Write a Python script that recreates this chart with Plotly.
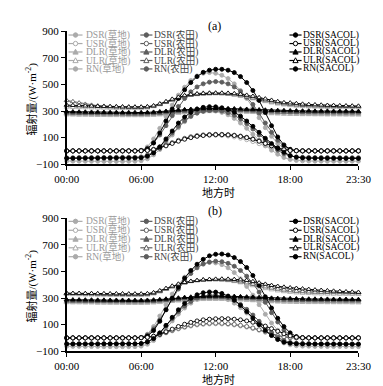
import plotly.graph_objects as go

# ---------------- data ----------------
times = ["00:00","00:30","01:00","01:30","02:00","02:30","03:00","03:30",
         "04:00","04:30","05:00","05:30","06:00","06:30","07:00","07:30",
         "08:00","08:30","09:00","09:30","10:00","10:30","11:00","11:30",
         "12:00","12:30","13:00","13:30","14:00","14:30","15:00","15:30",
         "16:00","16:30","17:00","17:30","18:00","18:30","19:00","19:30",
         "20:00","20:30","21:00","21:30","22:00","22:30","23:00","23:30"]
x_tick_labels = ["00:00", "06:00", "12:00", "18:00", "23:30"]
y_tick_values = [-100, 100, 300, 500, 700, 900]

# ---- panel (a) ----
dsr_grass_a = [0,0,0,0,0,0,0,0,0,0,0,0, 5,30,90,170,260,345,420,480,530,565,585,590,
               585,570,545,505,455,395,325,250,175,110,55,20, 4,0,0,0,0,0,0,0,0,0,0,0]
usr_grass_a = [0,0,0,0,0,0,0,0,0,0,0,0, 1,5,14,28,45,62,78,92,103,111,116,118,
               118,116,112,105,96,84,70,54,38,22,10,3, 1,0,0,0,0,0,0,0,0,0,0,0]
dlr_grass_a = [272,271,270,270,269,268,268,267,267,266,266,266, 266,267,269,272,276,280,284,288,291,294,296,297,
               298,298,297,296,294,292,290,287,284,281,279,277, 276,275,274,274,273,273,272,272,272,271,271,271]
ulr_grass_a = [330,328,327,326,325,324,323,322,321,321,320,320, 320,324,334,350,368,387,403,416,426,433,437,439,
               438,435,430,423,414,404,393,382,372,362,354,347, 342,338,335,333,331,330,329,328,328,327,327,326]
rn_grass_a = [-76,-77,-77,-78,-78,-78,-79,-79,-79,-79,-78,-78, -74,-60,-30,10,65,120,175,220,258,285,300,305,
              300,290,272,245,210,170,125,80,40,5,-25,-50, -65,-72,-75,-76,-77,-77,-78,-78,-78,-78,-77,-77]

dsr_farm_a = [0,0,0,0,0,0,0,0,0,0,0,0, 3,20,60,120,190,265,335,395,445,482,505,518,
              522,518,505,482,448,405,350,285,210,140,80,35, 10,2,0,0,0,0,0,0,0,0,0,0]
usr_farm_a = [0,0,0,0,0,0,0,0,0,0,0,0, 1,4,12,26,44,62,80,95,107,116,121,124,
              125,125,123,119,112,103,91,76,58,40,23,10, 3,1,0,0,0,0,0,0,0,0,0,0]
dlr_farm_a = [285,284,283,282,282,281,280,280,279,279,278,278, 278,279,281,284,288,292,296,300,303,305,307,308,
              309,309,308,307,305,303,301,299,297,295,293,292, 291,290,289,289,288,288,287,287,287,286,286,286]
ulr_farm_a = [380,372,362,352,345,340,337,335,333,332,331,330, 330,332,338,350,366,383,398,410,419,425,429,431,
              432,431,428,423,416,408,399,389,379,370,362,355, 350,346,343,341,339,338,337,336,335,335,334,334]
rn_farm_a = [-52,-51,-50,-50,-50,-49,-49,-49,-48,-48,-48,-48, -45,-32,-8,30,80,135,185,228,262,285,298,304,
             305,300,288,268,240,205,165,120,78,38,5,-22, -38,-45,-48,-49,-50,-50,-50,-51,-51,-51,-51,-51]

dsr_sacol_a = [0,0,0,0,0,0,0,0,0,0,0,0, 2,15,60,135,225,315,395,460,515,560,592,608,
               615,615,608,590,560,515,455,380,290,190,105,45, 12,2,0,0,0,0,0,0,0,0,0,0]
usr_sacol_a = [0,0,0,0,0,0,0,0,0,0,0,0, 1,3,10,22,38,56,73,88,100,110,116,120,
               122,122,120,116,109,100,88,73,56,38,21,9, 3,1,0,0,0,0,0,0,0,0,0,0]
dlr_sacol_a = [296,295,294,293,292,292,291,290,290,289,289,289, 289,290,292,295,299,303,307,311,314,316,318,319,
               320,320,319,318,316,314,312,310,308,306,305,304, 303,302,301,301,300,300,300,299,299,299,299,298]
ulr_sacol_a = [345,343,341,339,338,336,335,334,333,332,331,331, 331,333,340,355,372,390,405,417,425,430,433,435,
               436,436,435,432,427,420,412,402,392,382,372,364, 362,357,353,350,348,346,344,343,341,340,339,338]
rn_sacol_a = [-56,-56,-55,-55,-55,-55,-54,-54,-54,-54,-54,-54, -52,-40,-15,30,90,150,210,255,290,315,328,333,
              332,325,312,292,262,225,185,140,95,55,20,-10, -35,-48,-53,-55,-55,-56,-56,-56,-56,-57,-57,-57]

# ---- panel (b) ----
dsr_grass_b = [0,0,0,0,0,0,0,0,0,0,0,0, 4,28,85,165,250,330,400,458,505,540,560,568,
               565,552,528,492,445,388,322,250,178,112,58,22, 5,0,0,0,0,0,0,0,0,0,0,0]
usr_grass_b = [0,0,0,0,0,0,0,0,0,0,0,0, 1,4,12,24,38,53,67,79,89,97,102,105,
               106,105,102,97,90,81,70,57,42,27,14,5, 1,0,0,0,0,0,0,0,0,0,0,0]
dlr_grass_b = [266,265,265,264,264,263,263,262,262,262,261,261, 261,262,264,267,271,275,279,283,286,288,290,291,
               291,291,290,288,286,284,281,278,275,273,271,270, 269,268,268,267,267,267,266,266,266,266,265,265]
ulr_grass_b = [328,327,326,325,324,323,322,321,321,320,320,320, 320,323,332,348,366,385,402,416,426,433,438,440,
               440,437,432,425,416,405,394,383,372,363,355,349, 344,340,337,335,333,332,331,330,329,329,328,328]
rn_grass_b = [-63,-64,-64,-65,-65,-65,-66,-66,-66,-66,-66,-66, -62,-48,-20,20,72,128,180,225,262,290,308,315,
              313,305,288,262,228,188,145,100,58,20,-12,-38, -52,-59,-62,-63,-64,-64,-65,-65,-65,-65,-66,-66]

dsr_farm_b = [0,0,0,0,0,0,0,0,0,0,0,0, 3,22,68,135,212,292,368,432,485,528,556,572,
              578,574,562,540,508,465,410,345,268,190,120,60, 20,4,0,0,0,0,0,0,0,0,0,0]
usr_farm_b = [0,0,0,0,0,0,0,0,0,0,0,0, 1,4,12,25,40,56,71,84,94,102,107,110,
              111,110,107,102,95,86,75,62,47,31,17,7, 2,0,0,0,0,0,0,0,0,0,0,0]
dlr_farm_b = [278,277,277,276,276,275,275,274,274,274,273,273, 273,274,276,279,283,287,291,295,298,300,302,303,
              304,304,303,302,300,298,296,293,290,288,286,285, 284,283,282,282,281,281,280,280,280,279,279,279]
ulr_farm_b = [335,334,333,332,331,330,329,329,328,328,327,327, 327,329,336,350,368,386,402,415,425,432,436,438,
              439,438,435,430,423,415,405,395,385,376,368,361, 356,352,349,347,345,344,343,342,342,341,341,340]
rn_farm_b = [-44,-44,-45,-45,-45,-45,-46,-46,-46,-46,-46,-46, -43,-30,-5,35,88,145,198,240,275,300,315,322,
             322,316,303,282,252,215,172,125,80,40,5,-20, -34,-40,-43,-44,-45,-45,-45,-46,-46,-46,-46,-46]

dsr_sacol_b = [0,0,0,0,0,0,0,0,0,0,0,0, 2,14,55,125,212,300,382,450,508,555,592,618,
               630,632,625,605,575,530,470,395,310,225,148,85, 38,10,2,0,0,0,0,0,0,0,0,0]
usr_sacol_b = [0,0,0,0,0,0,0,0,0,0,0,0, 1,4,13,28,46,66,86,103,117,128,136,141,
               144,145,144,141,136,128,118,105,89,70,50,31, 15,5,1,0,0,0,0,0,0,0,0,0]
dlr_sacol_b = [288,287,287,286,286,285,285,284,284,284,283,283, 283,284,286,289,293,297,301,305,308,311,313,314,
               315,315,314,313,311,309,307,305,302,300,298,297, 296,295,294,293,293,292,292,291,291,291,290,290]
ulr_sacol_b = [337,336,336,335,335,334,334,333,333,333,332,332, 332,334,341,356,373,391,406,418,427,433,438,441,
               443,444,443,441,438,434,425,415,405,396,389,383, 378,374,370,366,362,359,356,353,350,348,346,344]
rn_sacol_b = [-46,-46,-45,-45,-45,-45,-44,-44,-44,-44,-44,-44, -42,-30,-5,38,95,155,212,260,298,325,340,346,
              345,335,315,285,245,198,150,100,55,18,-12,-32, -40,-44,-45,-45,-46,-46,-46,-46,-46,-47,-47,-47]

site_names = ["草地", "农田", "SACOL"]
var_names = ["DSR", "USR", "DLR", "ULR", "RN"]

panel_a = {
    "草地": [dsr_grass_a, usr_grass_a, dlr_grass_a, ulr_grass_a, rn_grass_a],
    "农田": [dsr_farm_a, usr_farm_a, dlr_farm_a, ulr_farm_a, rn_farm_a],
    "SACOL": [dsr_sacol_a, usr_sacol_a, dlr_sacol_a, ulr_sacol_a, rn_sacol_a],
}
panel_b = {
    "草地": [dsr_grass_b, usr_grass_b, dlr_grass_b, ulr_grass_b, rn_grass_b],
    "农田": [dsr_farm_b, usr_farm_b, dlr_farm_b, ulr_farm_b, rn_farm_b],
    "SACOL": [dsr_sacol_b, usr_sacol_b, dlr_sacol_b, ulr_sacol_b, rn_sacol_b],
}

# ---------------- styles ----------------
W, H = 383, 386
site_colors = {"草地": "#ababab", "农田": "#5e5e5e", "SACOL": "#000000"}
text_colors = {"草地": "#9a9a9a", "农田": "#444444", "SACOL": "#000000"}
var_symbol = {"DSR": ("circle", True), "USR": ("circle", False), "DLR": ("triangle-up", True),
              "ULR": ("triangle-up", False), "RN": ("circle", True)}
SERIF = "Liberation Serif, Times New Roman, Noto Sans CJK SC, serif"


def px(x):
    return x / W


def py(y):
    return 1 - y / H


fig = go.Figure()

for panel, (xa, ya) in ((panel_a, ("x", "y")), (panel_b, ("x2", "y2"))):
    for site in site_names:
        col = site_colors[site]
        for vname, vals in zip(var_names, panel[site]):
            sym, filled = var_symbol[vname]
            fig.add_trace(go.Scatter(
                x=times, y=vals, xaxis=xa, yaxis=ya, mode="lines+markers",
                name=f"{vname}({site})", showlegend=False, cliponaxis=False,
                line=dict(color=col, width=1),
                marker=dict(symbol=sym, size=4 if sym == "circle" else 4.5,
                            color=col if filled else "white",
                            line=dict(color=col, width=0.9)),
            ))

axis_common = dict(showline=True, linecolor="black", linewidth=1.5, ticks="outside",
                   ticklen=4, tickwidth=1.2, tickcolor="black", showgrid=False, zeroline=False,
                   tickfont=dict(family=SERIF, size=11, color="black"))

x_dom = [px(49), px(362)]
fig.update_layout(
    width=W, height=H, margin=dict(l=0, r=0, t=0, b=0),
    paper_bgcolor="white", plot_bgcolor="white",
    xaxis=dict(domain=x_dom, anchor="y", type="category", range=[0, 47],
               tickmode="array", tickvals=x_tick_labels, ticktext=x_tick_labels, **axis_common),
    yaxis=dict(domain=[py(155), py(18)], anchor="x", range=[-100, 900],
               tickmode="array", tickvals=y_tick_values, **axis_common),
    xaxis2=dict(domain=x_dom, anchor="y2", type="category", range=[0, 47],
                tickmode="array", tickvals=x_tick_labels, ticktext=x_tick_labels, **axis_common),
    yaxis2=dict(domain=[py(348), py(211)], anchor="x2", range=[-100, 900],
                tickmode="array", tickvals=y_tick_values, **axis_common),
)

annotations = []
shapes = []

# titles / axis titles
for label, ytitle, yx, ycenter in (("(a)", 12, 184, 88), ("(b)", 203, 377, 281)):
    annotations.append(dict(text=label, x=px(208), y=py(ytitle), xref="paper", yref="paper",
                            showarrow=False, xanchor="center", yanchor="middle",
                            font=dict(family=SERIF, size=12, color="black")))
    annotations.append(dict(text="地方时", x=px(212), y=py(yx), xref="paper", yref="paper",
                            showarrow=False, xanchor="center", yanchor="middle",
                            font=dict(family="Noto Sans CJK SC", size=11, color="black")))
    annotations.append(dict(text="辐射量/(W·m<sup>-2</sup>)", x=px(11), y=py(ycenter),
                            xref="paper", yref="paper", showarrow=False, textangle=-90,
                            xanchor="center", yanchor="middle",
                            font=dict(family=SERIF, size=11, color="black")))

# legends (drawn as annotations + shapes)
legend_rows = {"a": [21.7, 30.5, 39.2, 48.0, 56.7], "b": [214.0, 223.2, 232.3, 241.3, 250.5]}
legend_cols = {"草地": (51, 66, 70), "农田": (128, 141, 143), "SACOL": (288, 301, 303)}
for rows in legend_rows.values():
    for site in site_names:
        x0, x1, xt = legend_cols[site]
        col = site_colors[site]
        for vname, ry in zip(var_names, rows):
            shapes.append(dict(type="line", xref="paper", yref="paper", x0=px(x0), x1=px(x1),
                               y0=py(ry), y1=py(ry), line=dict(color=col, width=1.2)))
            sym, filled = var_symbol[vname]
            cx = (x0 + x1) / 2
            fill = col if filled else "white"
            if sym == "circle":
                shapes.append(dict(type="circle", xref="paper", yref="paper",
                                   x0=px(cx - 2.3), x1=px(cx + 2.3), y0=py(ry + 2.3), y1=py(ry - 2.3),
                                   fillcolor=fill, line=dict(color=col, width=1)))
            else:
                path = (f"M {px(cx - 2.8)},{py(ry + 2.2)} L {px(cx + 2.8)},{py(ry + 2.2)} "
                        f"L {px(cx)},{py(ry - 2.8)} Z")
                shapes.append(dict(type="path", xref="paper", yref="paper", path=path,
                                   fillcolor=fill, line=dict(color=col, width=1)))
            annotations.append(dict(text=f"{vname}({site})", x=px(xt - 1), y=py(ry),
                                    xref="paper", yref="paper", showarrow=False,
                                    xanchor="left", yanchor="middle", borderpad=0,
                                    font=dict(family=SERIF, size=9.5, color=text_colors[site])))

fig.update_layout(annotations=annotations, shapes=shapes)
fig.write_html("out.html")
